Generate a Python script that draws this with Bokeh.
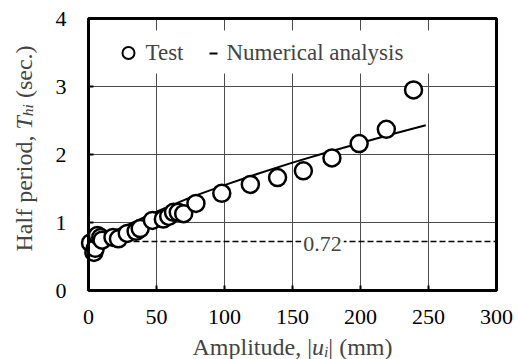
from bokeh.plotting import figure
from bokeh.models import Label, Range1d, FixedTicker, LinearAxis, Grid
from bokeh.embed import file_html
from bokeh.resources import INLINE
from math import pi

# ---- data ----
test_x = [1.5, 4, 5, 6.6, 9, 10, 18, 22, 28.5, 35, 38, 47, 55, 59, 62.5, 66, 70, 79, 98, 119, 139, 158, 179, 199, 219, 239]
test_y = [0.70, 0.56, 0.62, 0.81, 0.78, 0.74, 0.78, 0.76, 0.84, 0.87, 0.91, 1.03, 1.05, 1.09, 1.15, 1.15, 1.13, 1.28, 1.43, 1.56, 1.66, 1.76, 1.95, 2.16, 2.37, 2.95]
num_x = [0, 10, 25, 50, 75, 100, 125, 150, 175, 200, 225, 248]
num_y = [0.72, 0.80, 0.93, 1.16, 1.37, 1.55, 1.72, 1.88, 2.03, 2.17, 2.31, 2.43]
linear_period = 0.72
x_ticks = [0, 50, 100, 150, 200, 250, 300]
y_ticks = [0, 1, 2, 3, 4]

FONT = "Liberation Serif"
W, H = 518, 359
L, R, T, B = 88, 22, 18, 69          # plot-area placement inside the canvas
X0, X1, Y0, Y1 = 0, 300, 0, 4
fw, fh = W - L - R, H - T - B


def dx(px):  # canvas px (from left) -> data x
    return X0 + (px - L) * (X1 - X0) / fw


def dy(py):  # canvas px (from top) -> data y
    return Y0 + (T + fh - py) * (Y1 - Y0) / fh


p = figure(width=W, height=H, output_backend="svg", toolbar_location=None,
           x_range=Range1d(dx(0), dx(W)), y_range=Range1d(dy(H), dy(0)),
           x_axis_location=None, y_axis_location=None, min_border=0)
p.background_fill_color = "white"
p.border_fill_color = "white"
p.outline_line_color = None
p.center = [r for r in p.center if not isinstance(r, Grid)]

# axes fixed at the data origin
xax = LinearAxis(fixed_location=Y0, ticker=FixedTicker(ticks=x_ticks))
yax = LinearAxis(fixed_location=X0, ticker=FixedTicker(ticks=y_ticks))
for ax in (xax, yax):
    ax.axis_line_color = None
    ax.major_tick_in = 5
    ax.major_tick_out = 0
    ax.major_tick_line_width = 2
    ax.major_tick_line_color = "black"
    ax.minor_tick_line_color = None
    ax.major_label_text_font = FONT
    ax.major_label_text_font_size = "22px"
    ax.major_label_text_color = "black"
xax.major_label_standoff = 19
yax.major_label_standoff = 22
p.add_layout(xax, "below")
p.add_layout(yax, "left")

# grid lines at tick values
p.segment(x0=x_ticks, y0=[Y0] * len(x_ticks), x1=x_ticks, y1=[Y1] * len(x_ticks), line_color="#4d4d4d", line_width=1)
p.segment(x0=[X0] * len(y_ticks), y0=y_ticks, x1=[X1] * len(y_ticks), y1=y_ticks, line_color="#4d4d4d", line_width=1)

# dashed linear period line
p.line([X0, X1], [linear_period, linear_period], line_color="black", line_width=1.5, line_dash="6 3")

# numerical analysis line
p.line(num_x, num_y, line_color="black", line_width=2)
# test points
p.scatter(test_x, test_y, marker="circle", size=17, fill_color="white", line_color="black", line_width=2.5)

# plot frame
p.quad(left=[X0], right=[X1], bottom=[Y0], top=[Y1], fill_color=None, line_color="black", line_width=3)

p.add_layout(Label(x=dx(322), y=dy(243.5), text="0.72", text_font=FONT, text_font_size="22px",
                   text_align="center", text_baseline="middle", background_fill_color="white",
                   padding=2))

# legend box (manual)
p.quad(left=[dx(112)], right=[dx(474)], top=[dy(30)], bottom=[dy(73)], fill_color="white", line_color=None)
p.scatter([dx(128)], [dy(52.5)], marker="circle", size=12, fill_color="white", line_color="black", line_width=2)
p.add_layout(Label(x=dx(145), y=dy(52), text="Test", text_font=FONT, text_font_size="23px",
                   text_align="left", text_baseline="middle"))
p.line([dx(209), dx(217)], [dy(53), dy(53)], line_color="black", line_width=2)
p.add_layout(Label(x=dx(226), y=dy(52), text="Numerical analysis", text_font=FONT, text_font_size="23px",
                   text_align="left", text_baseline="middle"))

# x axis label: "Amplitude, |u_i| (mm)"
FS, SS = 24, 15.6
xpieces = [("Amplitude, |", "normal", FS, 4.978 * FS, 0, 0),
           ("u", "italic", FS, 0.5 * FS, 0, 0),
           ("i", "italic", SS, 0.278 * SS, 4, 0),
           ("| (mm)", "normal", FS, 2.672 * FS, 0, 0)]
total = sum(pc[3] for pc in xpieces)
cx = L + fw / 2
px_ = cx - total / 2
mid = 346.5
for txt, style, size, w, sh, lead in xpieces:
    p.add_layout(Label(x=dx(px_ + lead), y=dy(mid + sh), text=txt,
                       text_font=FONT, text_font_size=f"{size}px", text_font_style=style,
                       text_align="left", text_baseline="middle"))
    px_ += w

# y axis label: "Half period, T_hi (sec.)" rotated
ypieces = [("Half period,", "normal", FS, 5.082 * FS, 0, 0),
           ("T", "italic", FS, 0.556 * FS, 0, 0),
           ("hi", "italic", SS, 0.778 * SS, 4, 0),
           ("(sec.)", "normal", FS, 2.443 * FS, 0, 0.25 * FS)]
py_ = 251
bx = 23
for txt, style, size, w, sh, lead in ypieces:
    p.add_layout(Label(x=dx(bx + sh), y=dy(py_ - lead), text=txt,
                       text_font=FONT, text_font_size=f"{size}px", text_font_style=style,
                       text_align="left", text_baseline="middle", angle=pi / 2))
    py_ -= w

open("out.html", "w").write(file_html(p, INLINE))
